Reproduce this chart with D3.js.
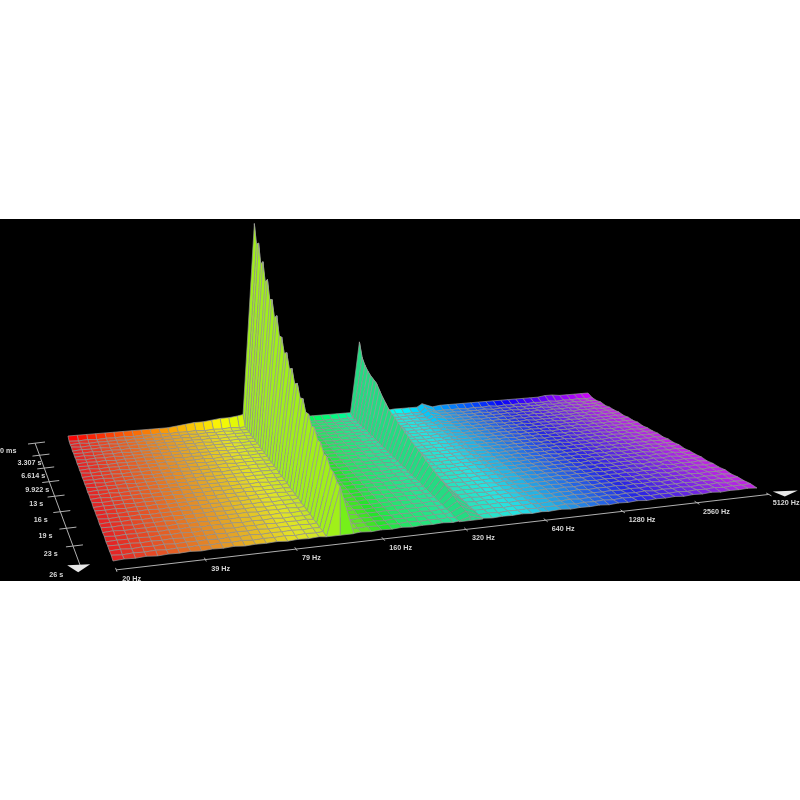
<!DOCTYPE html>
<html><head><meta charset="utf-8">
<script src="https://cdn.jsdelivr.net/npm/d3@7"></script>
<style>html,body{margin:0;padding:0;background:#fff}svg{display:block;filter:blur(0.6px)}text{font-family:"Liberation Sans",Arial,sans-serif;font-weight:700}</style>
</head><body><div id="chart"></div>
<script>
// ---------- data ----------
const bandsHz = [20,21.8,23.8,25.9,28.3,30.8,33.6,36.7,40,43.6,47.6,51.9,56.6,61.7,67.3,73.4,
 80,87.2,95.1,103.7,110,123.4,138,146.7,160,174.5,190.3,207.5,226.3,246.8,269.1,293.4,
 320,338,372,415,452.5,493.5,538.2,586.9,640,697.9,740,830,905.1,987,1076.3,1173.8,
 1280,1395.9,1522.2,1660,1810.2,1974,2152.7,2347.6,2560,2791.7,3044.4,3320.1,3620.4,3948,4305.4,4695.2,5120];
const sliceSeconds = [0,0.827,1.654,2.48,3.307,4.134,4.961,5.788,6.614,7.441,8.268,9.095,9.922,10.75,11.58,12.4,13.23,
 14.06,14.88,15.71,16.54,17.36,18.19,19.02,19.84,20.67,21.5,22.33,23.15,23.98,24.8,25.63,26.46];
const peak1Hz = 123.4;
const peak1Levels = [100,91,93,84,86.5,78,80.5,72,73.5,66,68.5,60,61,54.5,56.5,50,52,46,48,42.5,44,39,40,36,37,33,33.5,30,30.5,27,27,24.5,24];
const peak2Hz = 372;
const peak2Levels = [36.5,30,27.5,26,25,24.5,24,22,20,18.5,17,16,15.5,14.5,14,13,12.5,11.5,11,10.5,10,9,8.5,7.5,7,6.5,6,5,4.5,3.5,3,2.5,2];
const peak3Hz = 740;
const peak3Levels = [3,2.5,2,1.5,1.5,1,1,0.5,0.5,0,0,0,0,0,0,0,0,0,0,0,0,0,0,0,0,0,0,0,0,0,0,0,0];
// level of the first slice along the back edge, one per band
const onsetLevels = [1.5,1.5,1.5,1.5,1.5,1.5,1.5,1.5,1.5,1.5,1.5,1.5,2,2.5,3,3,3.5,4,4,4.5,5,5,1,1.5,1.5,1.5,1.5,1.5,1.5,1.5,1.5,1.5,
 1.5,1.5,1.5,1,1,1,1.5,1.5,1.5,1.5,1.5,1,1.5,1.5,1.5,1.5,1.5,1.5,1.5,1.5,1.5,1.5,1.5,1.5,1.5,1.5,2,2,1.5,1.5,1.5,1.5,1.5];
// small ripple of the noise floor
const rippleLevels = [0,0.35,0.1,0.45,0,0.3,0.15,0.4];
const freqTickHz = [20,39,79,160,320,640,1280,2560,5120];
const freqTickLabels = ["20 Hz","39 Hz","79 Hz","160 Hz","320 Hz","640 Hz","1280 Hz","2560 Hz","5120 Hz"];
const timeTickSeconds = [0,3.307,6.614,9.922,13.23,16.54,19.84,23.15,26.46];
const timeTickLabels = ["0 ms","3.307 s","6.614 s","9.922 s","13 s","16 s","19 s","23 s","26 s"];

// ---------- layout ----------
const W=800,H=800;
const svg=d3.select("#chart").append("svg").attr("width",W).attr("height",H);
svg.append("rect").attr("x",0).attr("y",219).attr("width",W).attr("height",362).attr("fill","#000");

const uScale=d3.scaleLog().domain([20,5120]).range([0,1]);
const vScale=d3.scaleLinear().domain([0,26.46]).range([0,1]);
const zScale=d3.scaleLinear().domain([0,100]).range([0,200]);
const hueScale=d3.scaleLinear().domain([0,0.31,0.42,0.6,0.8,1]).range([0,72,140,180,240,292]);

const [x0,y0,x1,y1,x2,y2,x3,y3]=[68,439,588,396,757,488,113,561];
const dx1=x1-x2,dx2=x3-x2,dy1=y1-y2,dy2=y3-y2,sx=x0-x1+x2-x3,sy=y0-y1+y2-y3;
const det=dx1*dy2-dx2*dy1,g=(sx*dy2-dx2*sy)/det,h=(dx1*sy-sx*dy1)/det;
const a=x1-x0+g*x1,b=x3-x0+h*x3,d=y1-y0+g*y1,e=y3-y0+h*y3;
function project(u0,v,k=0.015){
  const u=u0-k*v*4*u0*(1-u0);
  const w=g*u+h*v+1;return [(a*u+b*v+x0)/w,(d*u+e*v+y0)/w];
}

const nearest=hz=>d3.bisectCenter(bandsHz,hz);
const p1=nearest(peak1Hz),p2=nearest(peak2Hz),p3=nearest(peak3Hz);
function level(r,c){
  let z=r===0?onsetLevels[c]:rippleLevels[(c+r)%rippleLevels.length];
  if(c===p1)z=peak1Levels[r];
  if(c===p2)z=peak2Levels[r];
  if(c===p3)z=Math.max(z,peak3Levels[r]);
  return z;
}
function pt(r,c){
  const [x,y]=project(uScale(bandsHz[c]),vScale(sliceSeconds[r]));
  return [x,y-zScale(level(r,c))];
}
const base=(r,c)=>project(uScale(bandsHz[c]),vScale(sliceSeconds[r]));
const quads=[];
const last=sliceSeconds.length-1;
for(let r=0;r<last;r++){
  for(let c=bandsHz.length-2;c>=0;c--){
    const wall=[c,c+1].includes(p1)?1:[c,c+1].includes(p2)?2:0;
    const hill=[c,c+1].includes(p3)&&peak3Levels[r]>1;
    quads.push({c,wall,bright:r===0||hill,pts:[pt(r,c),pt(r,c+1),pt(r+1,c+1),pt(r+1,c)]});
  }
}
// closing face of the front slice under the two main peaks
[p1-1,p1].forEach(c=>quads.push({c,wall:1,bright:true,pts:[pt(last,c),pt(last,c+1),base(last,c+1),base(last,c)]}));
[p2-1,p2].forEach(c=>quads.push({c,wall:2,bright:true,pts:[pt(last,c),pt(last,c+1),base(last,c+1),base(last,c)]}));
const line=d3.line();
const fillOf=q=>{
  const hue=hueScale(uScale(bandsHz[q.c]));
  if(q.wall===1) return d3.hsl(hue+11,0.88,0.52)+"";
  if(q.wall===2) return d3.hsl(hue-9,0.72,0.5)+"";
  return d3.hsl(hue,q.bright?0.95:0.78,q.bright?0.5:0.52)+"";
};
svg.append("g").selectAll("path").data(quads).join("path")
  .attr("d",q=>line(q.pts)+"Z")
  .attr("fill",fillOf)
  .attr("stroke","#9a9a9a").attr("stroke-width",0.68).attr("stroke-linejoin","round");

// axes
const axisCol="#b0b0b0",txtCol="#d8d8d8";
const A=svg.append("g");
const fv=1.055,axisWarp=0.007;
const timeAxisPoint=v=>{const p=project(0,v);return [p[0]-33,p[1]+4];};
const seg=(p,q)=>A.append("line").attr("x1",p[0]).attr("y1",p[1]).attr("x2",q[0]).attr("y2",q[1]).attr("stroke",axisCol).attr("stroke-width",1);
seg(project(0,fv),project(1,fv));
seg(timeAxisPoint(0),timeAxisPoint(1.02));
freqTickHz.forEach((hz,i)=>{
  const u=uScale(hz),p=project(u,fv,axisWarp);
  seg(project(u,fv-0.012,axisWarp),project(u,fv+0.012,axisWarp));
  A.append("text").attr("x",p[0]+(i===8?4:6)).attr("y",p[1]+11).attr("font-size",7.2).attr("fill",txtCol).text(freqTickLabels[i]);
});
timeTickSeconds.forEach((s,i)=>{
  const v=vScale(s),p=timeAxisPoint(v);
  if(i<8) seg([p[0]-7,p[1]+1],[p[0]+10,p[1]-1]);
  A.append("text").attr("x",i===0?0:p[0]-22-(p[0]-40)*0.22).attr("y",p[1]+(i===8?12:10)).attr("font-size",7.2).attr("fill",txtCol).text(timeTickLabels[i]);
});
const tri=(pts)=>A.append("path").attr("d",line(pts)+"Z").attr("fill","#e8e8e8");
const tEnd=timeAxisPoint(1.02);
tri([[tEnd[0]-14,tEnd[1]-3],[tEnd[0]+9,tEnd[1]-4],[tEnd[0]-3,tEnd[1]+4]]);
const fEnd=project(1,fv);
tri([[fEnd[0]+4,fEnd[1]-3],[fEnd[0]+29,fEnd[1]-4],[fEnd[0]+16,fEnd[1]+2]]);
</script></body></html>
